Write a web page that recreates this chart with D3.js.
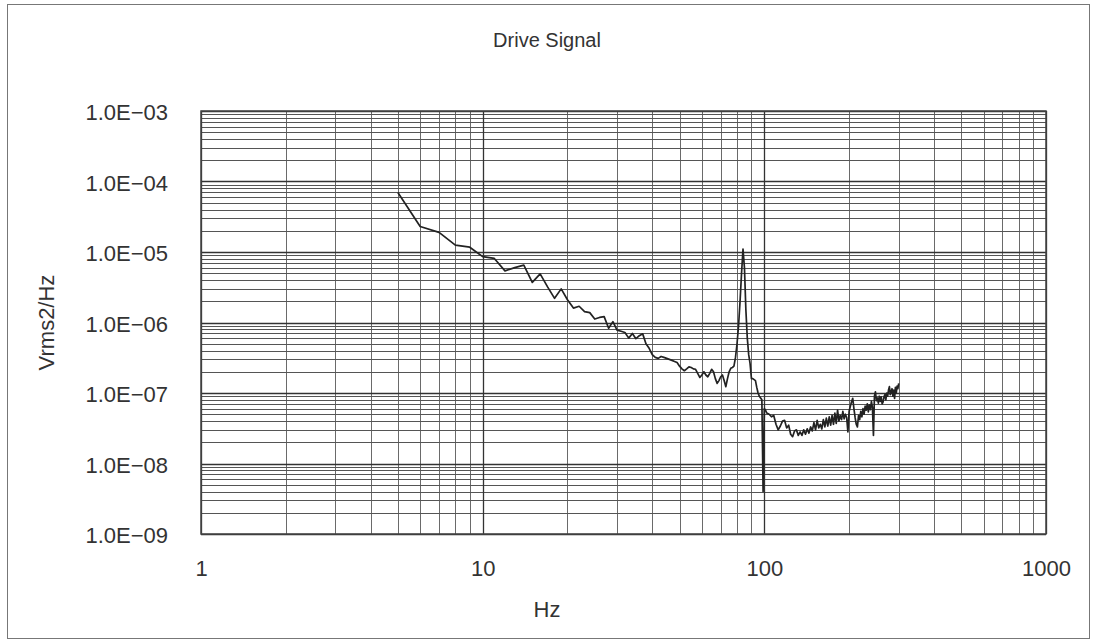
<!DOCTYPE html>
<html>
<head>
<meta charset="utf-8">
<script src="https://cdn.jsdelivr.net/npm/d3@7/dist/d3.min.js"></script>
<style>
  body { margin: 0; background: #fff; }
  svg text { font-family: "Liberation Sans", Arial, sans-serif; fill: #333; }
</style>
</head>
<body>
<div id="chart"></div>
<script>
// chart texts
const chartTitle = 'Drive Signal';
const xTitle = 'Hz';
const yTitle = 'Vrms2/Hz';

// ticks
const xTicks = [1, 10, 100, 1000];
const xTickLabels = ['1', '10', '100', '1000'];
const yTicks = [1e-9, 1e-8, 1e-7, 1e-6, 1e-5, 1e-4, 1e-3];
const yTickLabels = ['1.0E\u221209', '1.0E\u221208', '1.0E\u221207', '1.0E\u221206', '1.0E\u221205', '1.0E\u221204', '1.0E\u221203'];

// drive signal, 5..101 Hz
const freqLow = [5, 6, 7, 8, 9, 10, 11, 12, 13, 14, 15, 16, 17, 18, 19, 20, 21, 22, 23, 24, 25, 26, 27, 28, 29, 30,
  31, 32, 33, 34, 35, 36, 37, 38, 39, 40, 41, 42, 43, 44, 45, 46, 47, 48, 49, 50, 51, 52, 53, 54, 55, 56, 57, 58, 59, 60,
  61, 62, 63, 64, 65, 66, 67, 68, 69, 70, 71, 72, 73, 74, 75, 76, 77, 78, 79, 80, 81, 82, 83, 84, 85, 86, 87, 88, 89, 90,
  91, 92, 93, 94, 95, 96, 97, 98, 99, 100, 101];
const psdLow = [7.0e-5, 2.3e-5, 1.9e-5, 1.25e-5, 1.17e-5, 8.6e-6, 8.1e-6, 5.4e-6, 6.0e-6, 6.5e-6, 3.7e-6, 4.9e-6, 3.2e-6, 2.2e-6, 3.0e-6, 2.1e-6, 1.6e-6, 1.7e-6, 1.43e-6, 1.38e-6, 1.12e-6, 1.18e-6, 1.21e-6, 8.3e-7, 1.03e-6, 7.8e-7,
  7.5e-7, 7.2e-7, 6.0e-7, 7.0e-7, 5.9e-7, 6.5e-7, 6.9e-7, 5.0e-7, 4.3e-7, 3.5e-7, 3.2e-7, 3.1e-7, 3.3e-7, 3.2e-7, 3.1e-7, 3.0e-7, 2.9e-7, 2.8e-7, 2.7e-7, 2.4e-7, 2.2e-7, 2.07e-7, 2.2e-7, 2.35e-7, 2.3e-7, 2.2e-7, 2.17e-7, 1.9e-7, 1.66e-7, 1.8e-7,
  2.0e-7, 1.8e-7, 1.7e-7, 1.9e-7, 2.17e-7, 2.0e-7, 1.6e-7, 1.37e-7, 1.5e-7, 1.7e-7, 1.8e-7, 1.5e-7, 1.23e-7, 1.6e-7, 2.0e-7, 2.24e-7, 2.3e-7, 2.4e-7, 3.2e-7, 5.0e-7, 9.0e-7, 2.0e-6, 5.0e-6, 1.1e-5, 6.0e-6, 1.5e-6, 6.0e-7, 3.5e-7, 2.6e-7, 1.6e-7,
  1.6e-7, 1.55e-7, 1.5e-7, 1.2e-7, 1.0e-7, 9.0e-8, 8.5e-8, 8.0e-8, 4.0e-9, 6.0e-8, 5.7e-8];

// drive signal, 102..300 Hz
const freqHigh = [102, 104, 106, 108, 110, 112, 114, 116, 118, 120, 122, 124, 126, 128, 130, 132, 134, 136, 138, 140,
  142, 144, 146, 148, 150, 152, 154, 156, 158, 160, 162, 164, 166, 168, 170, 172, 174, 176, 178, 180,
  182, 184, 186, 188, 190, 192, 194, 196, 198, 200, 202, 204, 206, 208, 210, 212, 214, 216, 218, 220,
  222, 224, 226, 228, 230, 232, 234, 236, 238, 240, 242, 244, 246, 248, 250, 252, 254, 256, 258, 260,
  262, 264, 266, 268, 270, 272, 274, 276, 278, 280, 282, 284, 286, 288, 290, 292, 294, 296, 298, 300];
const psdHigh = [5.2e-8, 5.0e-8, 4.6e-8, 4.8e-8, 3.6e-8, 3.0e-8, 3.4e-8, 4.0e-8, 4.1e-8, 3.2e-8, 3.5e-8, 2.6e-8, 2.4e-8, 2.9e-8, 3.0e-8, 2.5e-8, 2.8e-8, 2.5e-8, 3.0e-8, 2.6e-8,
  3.1e-8, 2.7e-8, 3.3e-8, 2.9e-8, 3.8e-8, 3.0e-8, 4.1e-8, 3.2e-8, 3.6e-8, 3.1e-8, 4.2e-8, 3.3e-8, 4.4e-8, 3.4e-8, 4.6e-8, 3.5e-8, 4.8e-8, 3.6e-8, 5.2e-8, 3.7e-8,
  5.7e-8, 4.0e-8, 4.8e-8, 4.2e-8, 5.5e-8, 4.3e-8, 5.0e-8, 4.5e-8, 2.8e-8, 5.5e-8, 6.5e-8, 7.5e-8, 8.4e-8, 6.0e-8, 4.5e-8, 3.6e-8, 3.3e-8, 4.8e-8, 4.2e-8, 5.5e-8,
  4.6e-8, 6.0e-8, 5.0e-8, 6.5e-8, 5.7e-8, 7.0e-8, 5.4e-8, 6.8e-8, 5.8e-8, 7.6e-8, 6.2e-8, 2.5e-8, 9.0e-8, 1.04e-7, 7.8e-8, 8.5e-8, 7.2e-8, 9.0e-8, 7.6e-8, 8.8e-8,
  7.0e-8, 7.5e-8, 8.8e-8, 9.5e-8, 8.0e-8, 1.0e-7, 9.0e-8, 1.1e-7, 1.23e-7, 9.5e-8, 1.05e-7, 1.15e-7, 9.0e-8, 1.1e-7, 8.4e-8, 1.2e-7, 1.0e-7, 1.25e-7, 1.15e-7, 1.37e-7];

const width = 1095, height = 641;
const margin = { top: 111, right: 49, bottom: 107, left: 201 };
const innerW = width - margin.left - margin.right;
const innerH = height - margin.top - margin.bottom;

const svg = d3.select('#chart').append('svg')
  .attr('width', width)
  .attr('height', height);

// outer frame of the chart
svg.append('rect')
  .attr('x', 7.5).attr('y', 4.5)
  .attr('width', 1082).attr('height', 634)
  .attr('fill', 'none')
  .attr('stroke', '#777')
  .attr('stroke-width', 1);

const chart = svg.append('g')
  .attr('transform', `translate(${margin.left},${margin.top})`);

const x = d3.scaleLog().domain([1, 1000]).range([0, innerW]);
const y = d3.scaleLog().domain([1e-9, 1e-3]).range([innerH, 0]);

// minor + major gridlines
const xMinor = [];
[1, 10, 100].forEach(d => [2, 3, 4, 5, 6, 7, 8, 9].forEach(m => xMinor.push(d * m)));
const yMinor = [];
yTicks.slice(0, -1).forEach(d => [2, 3, 4, 5, 6, 7, 8, 9].forEach(m => yMinor.push(d * m)));

chart.append('g').selectAll('line')
  .data(xMinor)
  .join('line')
  .attr('x1', d => Math.round(x(d)) + 0.5).attr('x2', d => Math.round(x(d)) + 0.5)
  .attr('y1', 0).attr('y2', innerH)
  .attr('stroke', '#6a6a6a')
  .attr('stroke-width', 1);

chart.append('g').selectAll('line')
  .data(yMinor)
  .join('line')
  .attr('x1', 0).attr('x2', innerW)
  .attr('y1', d => Math.round(y(d)) + 0.5).attr('y2', d => Math.round(y(d)) + 0.5)
  .attr('stroke', '#555')
  .attr('stroke-width', 1);

chart.append('g').selectAll('line')
  .data(xTicks)
  .join('line')
  .attr('x1', d => Math.round(x(d)) + 0.5).attr('x2', d => Math.round(x(d)) + 0.5)
  .attr('y1', 0).attr('y2', innerH)
  .attr('stroke', '#333')
  .attr('stroke-width', 1.3);

chart.append('g').selectAll('line')
  .data(yTicks)
  .join('line')
  .attr('x1', 0).attr('x2', innerW)
  .attr('y1', d => Math.round(y(d)) + 0.5).attr('y2', d => Math.round(y(d)) + 0.5)
  .attr('stroke', '#333')
  .attr('stroke-width', 1.3);

// plot border
chart.append('rect')
  .attr('width', innerW).attr('height', innerH)
  .attr('fill', 'none')
  .attr('stroke', '#444')
  .attr('stroke-width', 1.5);

// axis labels via d3 axes, lines hidden
const xAxis = chart.append('g')
  .attr('transform', `translate(0,${innerH})`)
  .call(d3.axisBottom(x).tickValues(xTicks).tickFormat((d, i) => xTickLabels[i]).tickSize(0).tickPadding(26));
const yAxis = chart.append('g')
  .call(d3.axisLeft(y).tickValues(yTicks).tickFormat((d, i) => yTickLabels[i]).tickSize(0).tickPadding(33));
[xAxis, yAxis].forEach(a => {
  a.select('.domain').remove();
  a.selectAll('text').attr('font-size', 22).attr('font-family', '"Liberation Sans", Arial, sans-serif').attr('fill', '#333');
});
yAxis.selectAll('text').attr('dy', '0.4em');

// the signal
const points = freqLow.map((f, i) => [f, psdLow[i]])
  .concat(freqHigh.map((f, i) => [f, psdHigh[i]]));

const line = d3.line()
  .x(d => x(d[0]))
  .y(d => y(d[1]));

chart.append('path')
  .datum(points)
  .attr('d', line)
  .attr('fill', 'none')
  .attr('stroke', '#222')
  .attr('stroke-width', 1.7)
  .attr('stroke-linejoin', 'round');

// titles
svg.append('text')
  .attr('x', 547).attr('y', 47)
  .attr('text-anchor', 'middle')
  .attr('font-size', 20)
  .text(chartTitle);

svg.append('text')
  .attr('x', 547).attr('y', 617)
  .attr('text-anchor', 'middle')
  .attr('font-size', 22)
  .text(xTitle);

svg.append('text')
  .attr('transform', `translate(54,${margin.top + innerH / 2}) rotate(-90)`)
  .attr('text-anchor', 'middle')
  .attr('font-size', 22)
  .text(yTitle);
</script>
</body>
</html>
